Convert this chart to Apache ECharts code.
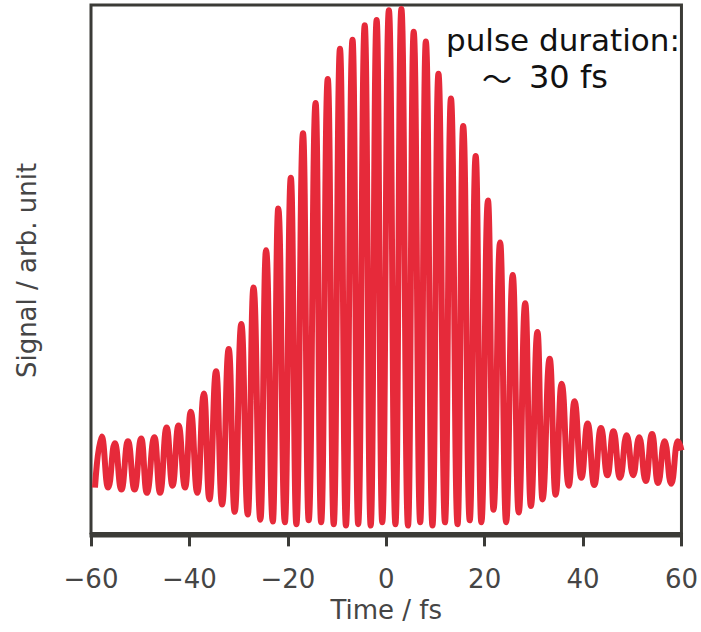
<!DOCTYPE html>
<html><head><meta charset="utf-8">
<script src="https://cdn.jsdelivr.net/npm/echarts@6/dist/echarts.min.js"></script>
<style>html,body{margin:0;padding:0;background:#fff}#c{width:701px;height:632px}</style>
</head><body><div id="c"></div>
<script>
// Interferometric autocorrelation trace: fringe maxima and minima
const timeFs = [
 -59.19,-57.84,-56.51,-55.16,-53.82,-52.49,-51.14,-49.79,-48.66,-47.11,
 -45.96,-44.63,-43.43,-42.22,-40.87,-39.72,-38.39,-37.04,-35.94,-34.57,
 -33.36,-32.01,-30.80,-29.45,-28.13,-26.98,-25.57,-24.42,-23.05,-21.94,
 -20.60,-19.39,-18.26,-16.91,-15.76,-14.35,-13.23,-11.88,-10.67,-9.40,
 -8.19,-6.85,-5.70,-4.37,-3.16,-1.95,-0.81,0.54,1.87,3.08,
 4.43,5.58,6.91,8.05,9.40,10.61,11.94,13.15,14.50,15.64,
 16.97,18.18,19.33,20.68,21.80,23.15,24.36,25.71,26.92,28.25,
 29.39,30.74,31.75,33.22,34.43,35.64,37.10,38.25,39.66,40.93,
 42.28,43.63,44.96,46.17,47.51,48.86,50.19,51.40,52.75,54.02,
 55.23,56.57,57.92,59.25,60.00
];
const signal = [
 0.70,1.48,0.70,1.38,0.67,1.41,0.67,1.45,0.62,1.47,
 0.62,1.62,0.73,1.65,0.70,1.86,0.62,2.14,0.52,2.48,
 0.44,2.82,0.33,3.20,0.29,3.76,0.21,4.33,0.18,4.97,
 0.17,5.44,0.14,6.12,0.20,6.58,0.17,6.95,0.14,7.41,
 0.12,7.55,0.14,7.77,0.12,7.85,0.17,8.00,0.14,8.02,
 0.12,7.67,0.17,7.52,0.12,7.03,0.17,6.65,0.14,6.23,
 0.20,5.77,0.17,5.09,0.36,4.45,0.17,3.95,0.32,3.52,
 0.42,3.08,0.52,2.67,0.59,2.29,0.73,2.02,0.85,1.68,
 0.74,1.61,0.89,1.56,0.85,1.50,0.89,1.47,0.80,1.52,
 0.77,1.41,0.76,1.41,1.27
];
const xTicks = [-60, -40, -20, 0, 20, 40, 60];
const xTitle = 'Time / fs';
const yTitle = 'Signal / arb. unit';
const note1 = 'pulse duration:';
const noteTilde = '〜';
const note2 = '30 fs';

const seriesData = timeFs.map((t, i) => [t, signal[i]]);
const frameColor = '#3b3b37';
const textGray = '#454545';

const chart = echarts.init(document.getElementById('c'), null, {renderer: 'svg'});
chart.setOption({
  animation: false,
  backgroundColor: '#ffffff',
  grid: {left: 91, right: 14, top: 5, bottom: 96, show: true,
         borderColor: frameColor, borderWidth: 3, backgroundColor: 'transparent'},
  xAxis: {
    type: 'value', min: xTicks[0], max: xTicks[xTicks.length - 1], interval: 20,
    axisLine: {show: true, lineStyle: {color: frameColor, width: 3}},
    axisTick: {show: true, inside: false, length: 13, lineStyle: {color: frameColor, width: 3}},
    axisLabel: {margin: 30, fontSize: 26, color: textGray, fontFamily: 'DejaVu Sans',
      formatter: v => String(v).replace('-', '−')},
    splitLine: {show: false},
    name: xTitle, nameLocation: 'middle', nameGap: 59,
    nameTextStyle: {fontSize: 26, color: textGray, fontFamily: 'DejaVu Sans'}
  },
  yAxis: {
    type: 'value', min: -0.04, max: 8.08,
    axisLine: {show: false}, axisTick: {show: false}, axisLabel: {show: false},
    splitLine: {show: false},
    name: yTitle, nameLocation: 'middle', nameGap: 51,
    nameTextStyle: {fontSize: 26, color: textGray, fontFamily: 'DejaVu Sans'}
  },
  graphic: [
    {type: 'text', left: 446, top: 24, z: 10,
     style: {text: note1, font: '31px "DejaVu Sans"', lineHeight: 31, fill: '#111111'}},
    {type: 'text', left: 482, top: 62, z: 10,
     style: {text: noteTilde, font: '30px "Noto Sans CJK JP"', lineHeight: 30, fill: '#111111'}},
    {type: 'text', left: 529, top: 61, z: 10,
     style: {text: note2, font: '32px "DejaVu Sans"', lineHeight: 32, fill: '#111111'}}
  ],
  series: [{
    type: 'line', data: seriesData, smooth: 0.5, smoothMonotone: 'x',
    showSymbol: false, clip: true,
    lineStyle: {color: '#e62a3a', width: 6}
  }]
});
</script>
</body></html>
